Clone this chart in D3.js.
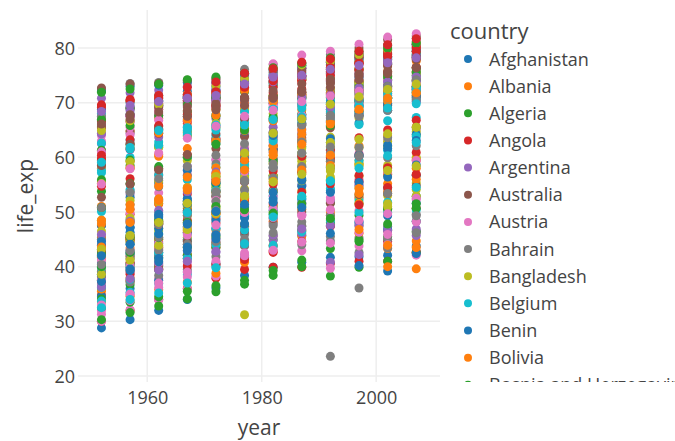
<html lang="en">
<head>
<meta charset="UTF-8">
<title>life_exp by year</title>
<script src="https://cdn.jsdelivr.net/npm/d3@7"></script>
<style>
  body { margin: 0; background: #fff; }
  text { font-family: "Open Sans", "DejaVu Sans", sans-serif; fill: #444; }
</style>
</head>
<body>
<svg id="chart"></svg>
<script>
// gapminder life expectancy, one row per country, columns follow `years`
var years = [1952, 1957, 1962, 1967, 1972, 1977, 1982, 1987, 1992, 1997, 2002, 2007];

var countries = ["Afghanistan","Albania","Algeria","Angola","Argentina","Australia","Austria","Bahrain","Bangladesh","Belgium",
  "Benin","Bolivia","Bosnia and Herzegovina","Botswana","Brazil","Bulgaria","Burkina Faso","Burundi","Cambodia","Cameroon",
  "Canada","Central African Republic","Chad","Chile","China","Colombia","Comoros","Congo, Dem. Rep.","Congo, Rep.","Costa Rica",
  "Cote d'Ivoire","Croatia","Cuba","Czech Republic","Denmark","Djibouti","Dominican Republic","Ecuador","Egypt","El Salvador",
  "Equatorial Guinea","Eritrea","Ethiopia","Finland","France","Gabon","Gambia","Germany","Ghana","Greece",
  "Guatemala","Guinea","Guinea-Bissau","Haiti","Honduras","Hong Kong, China","Hungary","Iceland","India","Indonesia",
  "Iran","Iraq","Ireland","Israel","Italy","Jamaica","Japan","Jordan","Kenya","Korea, Dem. Rep.",
  "Korea, Rep.","Kuwait","Lebanon","Lesotho","Liberia","Libya","Madagascar","Malawi","Malaysia","Mali",
  "Mauritania","Mauritius","Mexico","Mongolia","Montenegro","Morocco","Mozambique","Myanmar","Namibia","Nepal",
  "Netherlands","New Zealand","Nicaragua","Niger","Nigeria","Norway","Oman","Pakistan","Panama","Paraguay",
  "Peru","Philippines","Poland","Portugal","Puerto Rico","Reunion","Romania","Rwanda","Sao Tome and Principe","Saudi Arabia",
  "Senegal","Serbia","Sierra Leone","Singapore","Slovak Republic","Slovenia","Somalia","South Africa","Spain","Sri Lanka",
  "Sudan","Swaziland","Sweden","Switzerland","Syria","Taiwan","Tanzania","Thailand","Togo","Trinidad and Tobago",
  "Tunisia","Turkey","Uganda","United Kingdom","United States","Uruguay","Venezuela","Vietnam","West Bank and Gaza","Yemen, Rep.",
  "Zambia","Zimbabwe"];

var lifeExp = [
  [28.8,30.3,32.0,34.0,36.1,38.4,39.9,40.8,41.7,41.8,42.1,43.8],
  [55.2,59.3,64.8,66.2,67.7,68.9,70.4,72.0,71.6,73.0,75.7,76.4],
  [43.1,45.7,48.3,51.4,54.5,58.0,61.4,65.8,67.7,69.2,71.0,72.3],
  [30.0,32.0,34.0,36.0,37.9,39.5,39.9,39.9,40.6,41.0,41.0,42.7],
  [62.5,64.4,65.1,65.6,67.1,68.5,69.9,70.8,71.9,73.3,74.3,75.3],
  [69.1,70.3,70.9,71.1,71.9,73.5,74.7,76.3,77.6,78.8,80.4,81.2],
  [66.8,67.5,69.5,70.1,70.6,72.2,73.2,74.9,76.0,77.5,79.0,79.8],
  [50.9,53.8,56.9,59.9,63.3,65.6,69.1,70.8,72.6,73.9,74.8,75.6],
  [37.5,39.3,41.2,43.5,45.3,46.9,50.0,52.8,56.0,59.4,62.0,64.1],
  [68.0,69.2,70.3,70.9,71.4,72.8,73.9,75.4,76.5,77.5,78.3,79.4],
  [38.2,40.4,42.6,44.9,47.0,49.2,50.9,52.3,53.9,54.8,54.4,56.7],
  [40.4,41.9,43.4,45.0,46.7,50.0,53.9,57.3,60.0,62.1,63.9,65.6],
  [53.8,58.5,61.9,64.8,67.5,69.9,70.7,71.1,72.2,73.2,74.1,74.9],
  [47.6,49.6,51.5,53.3,56.0,59.3,61.5,63.6,62.7,52.6,46.6,50.7],
  [50.9,53.3,55.7,57.6,59.5,61.5,63.3,65.2,67.1,69.4,71.0,72.4],
  [59.6,66.6,69.5,70.4,70.9,70.8,71.1,71.3,71.2,70.3,72.1,73.0],
  [32.0,34.9,37.8,40.7,43.6,46.1,48.1,49.6,50.3,50.3,50.7,52.3],
  [39.0,40.5,42.0,43.5,44.1,45.9,47.5,48.2,44.7,45.3,47.4,49.6],
  [39.4,41.4,43.4,45.4,40.3,31.2,51.0,53.9,55.8,56.5,56.8,59.7],
  [38.5,40.4,42.6,44.8,47.0,49.4,53.0,55.0,54.3,52.2,49.9,50.4],
  [68.8,70.0,71.3,72.1,72.9,74.2,75.8,76.9,78.0,78.6,79.8,80.7],
  [35.5,37.5,39.5,41.5,43.5,46.8,48.3,50.5,49.4,46.1,43.3,44.7],
  [38.1,39.9,41.7,43.6,45.6,47.4,49.5,51.1,51.7,51.6,50.5,50.7],
  [54.7,56.1,57.9,60.5,63.4,67.1,70.6,72.5,74.1,75.8,77.9,78.6],
  [44.0,50.5,44.5,58.4,63.1,64.0,65.5,67.3,68.7,70.4,72.0,73.0],
  [50.6,55.1,57.9,60.0,61.6,63.8,66.7,67.8,68.4,70.3,71.7,72.9],
  [40.7,42.5,44.5,46.5,48.9,50.9,52.9,54.9,57.9,60.7,63.0,65.2],
  [39.1,40.7,42.1,44.1,46.0,47.8,47.8,47.4,45.5,42.6,45.0,46.5],
  [42.1,45.1,48.4,52.0,54.9,55.6,56.7,57.5,56.4,53.0,53.0,55.3],
  [57.2,60.0,62.8,65.4,67.8,70.8,73.5,74.8,75.7,77.3,78.1,78.8],
  [40.5,42.5,44.9,47.4,49.8,52.4,54.0,54.7,52.0,48.0,46.8,48.3],
  [61.2,64.8,67.1,68.5,69.6,70.6,70.5,71.5,72.5,73.7,74.9,75.7],
  [59.4,62.3,65.2,68.3,70.7,72.6,73.7,74.2,74.4,76.2,77.2,78.3],
  [66.9,69.0,69.9,70.4,70.3,70.7,71.0,71.6,72.4,74.0,75.5,76.5],
  [70.8,71.8,72.3,73.0,73.5,74.7,74.6,74.8,75.3,76.1,77.2,78.3],
  [34.8,37.3,39.7,42.1,44.4,46.5,48.8,50.0,51.6,53.2,53.4,54.8],
  [45.9,49.8,53.5,56.8,59.6,61.8,63.7,66.0,68.5,70.0,70.8,72.2],
  [48.4,51.4,54.6,56.7,58.8,61.3,64.3,67.2,69.6,72.3,74.2,75.0],
  [41.9,44.4,47.0,49.3,51.1,53.3,56.0,59.8,63.7,67.2,69.8,71.3],
  [45.3,48.6,52.3,55.9,58.2,56.7,56.6,63.2,66.8,69.5,70.7,71.9],
  [34.5,36.0,37.5,39.0,40.5,42.0,43.7,45.7,47.5,48.2,49.3,51.6],
  [35.9,38.0,40.2,42.2,44.1,44.5,43.9,46.5,50.0,53.4,55.2,58.0],
  [34.1,36.7,40.1,42.1,43.5,44.5,44.9,46.7,48.1,49.4,50.7,52.9],
  [66.5,67.5,68.8,69.8,70.9,72.5,74.5,74.8,75.7,77.1,78.4,79.3],
  [67.4,68.9,70.5,71.5,72.4,73.8,74.9,76.3,77.5,78.6,79.6,80.7],
  [37.0,39.0,40.5,44.6,48.7,52.8,56.6,60.2,61.4,60.5,56.8,56.7],
  [30.0,32.1,33.9,35.9,38.3,41.8,45.6,49.3,52.6,55.9,58.0,59.4],
  [67.5,69.1,70.3,70.8,71.0,72.5,73.8,74.8,76.1,77.3,78.7,79.4],
  [43.1,44.8,46.5,48.1,49.9,51.8,53.7,55.7,57.5,58.6,58.5,60.0],
  [65.9,67.9,69.5,71.0,72.3,73.7,75.2,76.7,77.0,77.9,78.3,79.5],
  [42.0,44.1,47.0,50.0,53.7,56.0,58.1,60.8,63.4,66.3,69.0,70.3],
  [33.6,34.6,35.8,37.2,38.8,40.8,42.9,45.6,48.6,51.5,53.7,56.0],
  [32.5,33.5,34.5,35.5,36.5,37.5,39.3,41.2,43.3,44.9,45.5,46.4],
  [37.6,40.7,43.6,46.2,48.0,49.9,51.5,53.6,55.1,56.7,58.1,60.9],
  [41.9,44.7,48.0,50.9,53.9,57.4,60.9,64.5,66.4,67.7,68.6,70.2],
  [61.0,64.8,67.7,70.0,72.0,73.6,75.5,76.2,77.6,80.0,81.5,82.2],
  [64.0,66.4,68.0,69.5,69.8,70.0,69.4,69.6,69.2,71.0,72.6,73.3],
  [72.5,73.5,73.7,73.7,74.5,76.1,77.0,77.2,78.8,79.0,80.5,81.8],
  [37.4,40.2,43.6,47.2,50.7,54.2,56.6,58.6,60.2,61.8,62.9,64.7],
  [37.5,39.9,42.5,46.0,49.2,52.7,56.2,60.1,62.7,66.0,68.6,70.7],
  [44.9,47.2,49.3,52.5,55.2,57.7,59.6,63.0,65.7,68.0,69.5,71.0],
  [45.3,48.4,51.5,54.5,57.0,60.4,62.0,65.0,59.5,58.8,57.0,59.5],
  [66.9,68.9,70.3,71.1,71.3,72.0,73.1,74.4,75.5,76.1,77.8,78.9],
  [65.4,67.8,69.4,70.8,71.6,73.1,74.5,75.6,76.9,78.3,79.7,80.7],
  [65.9,67.8,69.2,71.1,72.2,73.5,75.0,76.4,77.4,78.8,80.2,80.5],
  [58.5,62.6,65.6,67.5,69.0,70.1,71.2,71.8,71.8,72.3,72.0,72.6],
  [63.0,65.5,68.7,71.4,73.4,75.4,77.1,78.7,79.4,80.7,82.0,82.6],
  [43.2,45.7,48.1,51.6,56.5,61.1,63.7,65.9,68.0,69.8,71.3,72.5],
  [42.3,44.7,47.9,50.7,53.6,56.2,58.8,59.3,59.3,54.4,51.0,54.1],
  [50.1,54.1,56.7,59.9,64.0,67.2,69.1,70.6,70.0,67.7,66.7,67.3],
  [47.5,52.7,55.3,57.7,62.6,64.8,67.1,69.8,72.2,74.6,77.0,78.6],
  [55.6,58.0,60.5,64.6,67.7,69.3,71.3,74.2,75.2,76.2,76.9,77.6],
  [55.9,59.5,62.1,63.9,65.4,66.1,67.0,67.9,69.3,70.3,71.0,72.0],
  [42.1,45.0,47.7,48.5,49.8,52.2,55.1,57.2,59.7,55.6,44.6,42.6],
  [38.5,39.5,40.5,41.5,42.6,43.8,44.9,46.0,40.8,42.2,43.8,45.7],
  [42.7,45.3,47.8,50.2,52.8,57.4,62.2,66.2,68.8,71.6,72.7,74.0],
  [36.7,38.9,40.8,42.9,44.9,46.9,49.0,49.4,52.2,55.0,57.3,59.4],
  [36.3,37.2,38.4,39.5,41.8,43.8,45.6,47.5,49.4,47.5,45.0,48.3],
  [48.5,52.1,55.7,59.4,63.0,65.3,68.0,69.5,70.7,71.9,73.0,74.2],
  [33.7,35.3,36.9,38.5,40.0,41.7,43.9,46.4,48.4,49.9,51.8,54.5],
  [40.5,42.3,44.2,46.3,48.4,50.9,53.6,56.1,58.3,60.4,62.2,64.2],
  [51.0,58.1,60.2,61.6,62.9,64.9,66.7,68.7,69.7,70.7,72.0,72.8],
  [50.8,55.2,58.3,60.1,62.4,65.0,67.4,69.5,71.5,73.7,74.9,76.2],
  [42.2,45.2,48.3,51.3,53.8,55.5,57.5,60.2,61.3,63.6,65.0,66.8],
  [59.2,61.4,63.7,67.2,70.6,73.1,74.1,74.9,75.4,75.4,74.0,74.5],
  [42.9,45.4,47.9,50.3,52.9,55.7,59.7,62.7,65.4,67.7,69.6,71.2],
  [31.3,33.8,36.2,38.1,40.3,42.5,42.8,42.9,44.3,46.3,44.0,42.1],
  [36.3,41.9,45.1,49.4,53.1,56.1,58.1,58.3,59.3,60.3,59.9,62.1],
  [41.7,45.2,48.4,51.2,53.9,56.4,59.0,60.8,62.0,58.9,51.5,52.9],
  [36.2,37.7,39.4,41.5,44.0,46.7,49.6,52.5,55.7,59.4,61.3,63.8],
  [72.1,73.0,73.2,73.8,73.8,75.2,76.1,76.8,77.4,78.0,78.5,79.8],
  [69.4,70.3,71.2,71.5,71.9,72.2,73.8,74.3,76.3,77.5,79.1,80.2],
  [42.3,45.4,48.6,51.9,55.2,57.5,59.3,62.0,65.8,68.4,70.8,72.9],
  [37.4,38.6,39.5,40.1,40.5,41.3,42.6,44.6,47.4,51.3,54.5,56.9],
  [36.3,37.8,39.4,41.0,42.8,44.5,45.8,46.9,47.5,47.5,46.6,46.9],
  [72.7,73.4,73.5,74.1,74.3,75.4,76.0,75.9,77.3,78.3,79.1,80.2],
  [37.6,40.1,43.2,47.0,52.1,57.4,62.7,67.7,71.2,72.5,74.2,75.6],
  [43.4,45.6,47.7,49.8,51.9,54.0,56.2,58.2,60.8,61.8,63.6,65.5],
  [55.2,59.2,61.8,64.1,66.2,68.7,70.5,71.5,72.5,73.7,74.7,75.5],
  [62.6,63.2,64.4,65.0,65.8,66.4,66.9,67.4,68.2,69.4,70.8,71.8],
  [43.9,46.3,49.1,51.4,55.4,58.4,61.4,64.1,66.5,68.4,69.9,71.4],
  [47.8,51.3,54.8,56.4,58.1,60.1,62.1,64.2,66.5,68.6,70.3,71.7],
  [61.3,65.8,67.6,69.6,70.9,70.7,71.3,71.0,71.0,72.8,74.7,75.6],
  [59.8,61.5,64.4,66.6,69.3,70.4,72.8,74.1,74.9,76.0,77.3,78.1],
  [64.3,68.5,69.6,71.1,72.2,73.4,73.8,74.6,73.9,74.9,77.8,78.7],
  [52.7,55.1,57.7,60.5,64.3,67.1,69.9,71.9,73.6,74.8,75.7,76.4],
  [61.0,64.1,66.8,66.8,69.2,69.5,69.7,69.5,69.4,69.7,71.3,72.5],
  [40.0,41.5,43.0,44.1,44.6,45.0,46.2,44.0,23.6,36.1,43.4,46.2],
  [46.5,48.9,51.9,54.4,56.5,58.5,60.4,61.7,62.7,63.3,64.3,65.5],
  [39.9,42.9,45.9,49.9,53.9,58.7,63.0,66.3,68.8,70.5,71.6,72.8],
  [37.3,39.3,41.5,43.6,45.8,48.9,52.4,55.8,58.2,60.2,61.6,63.1],
  [58.0,61.7,64.5,66.9,68.7,70.3,70.2,71.2,71.7,72.2,73.2,74.0],
  [30.3,31.6,32.8,34.1,35.4,36.8,38.4,40.0,38.3,39.9,41.0,42.6],
  [60.4,63.2,65.8,67.9,69.5,70.8,71.8,73.6,75.8,77.2,78.8,80.0],
  [64.4,67.5,70.3,71.0,70.3,70.5,70.8,71.1,71.4,72.7,73.8,74.7],
  [65.6,67.8,69.2,69.2,69.8,71.0,71.1,72.3,73.6,75.1,76.7,77.9],
  [33.0,35.0,37.0,39.0,41.0,42.0,43.0,44.5,39.7,43.8,45.9,48.2],
  [45.0,48.0,50.0,51.9,53.7,55.5,58.2,60.8,61.9,60.2,53.4,49.3],
  [64.9,66.7,69.7,71.4,73.1,74.4,76.3,76.9,77.6,78.8,79.8,80.9],
  [57.6,61.5,62.2,64.3,65.0,65.9,68.8,69.0,70.4,70.5,70.8,72.4],
  [38.6,39.6,40.9,42.9,45.1,47.8,50.3,51.7,53.6,55.4,56.4,58.6],
  [41.4,43.4,45.0,46.6,49.6,52.5,55.6,57.7,58.5,54.3,43.9,39.6],
  [71.9,72.5,73.4,74.2,74.7,75.4,76.4,77.2,78.2,79.4,80.0,80.9],
  [69.6,70.6,71.3,72.8,73.8,75.4,76.2,77.4,78.0,79.4,80.6,81.7],
  [45.9,48.3,50.3,53.7,57.3,61.2,64.6,67.0,69.2,71.5,73.1,74.1],
  [58.5,62.4,65.2,67.5,69.4,70.6,72.2,73.4,74.3,75.3,77.0,78.4],
  [41.2,43.0,44.2,45.8,47.6,49.9,50.6,51.5,50.4,48.5,49.7,52.5],
  [50.8,53.6,56.1,58.3,60.4,62.5,64.6,66.1,67.3,67.5,68.6,70.6],
  [38.6,41.2,43.9,46.8,49.8,52.9,55.5,56.9,58.1,58.4,57.6,58.4],
  [59.1,61.8,64.9,65.4,65.9,68.3,68.8,69.6,69.9,69.5,69.0,69.8],
  [44.6,47.1,49.6,52.1,55.6,59.8,64.0,66.9,70.0,72.0,73.0,73.9],
  [43.6,48.1,52.1,54.3,57.0,59.5,61.0,63.1,66.1,68.8,70.8,71.8],
  [40.0,42.6,45.3,48.1,51.0,50.4,49.8,51.5,48.8,44.6,47.8,51.5],
  [69.2,70.4,70.8,71.4,72.0,72.8,74.0,75.0,76.4,77.2,78.5,79.4],
  [68.4,69.5,70.2,70.8,71.3,73.4,74.7,75.0,76.1,76.8,77.3,78.2],
  [66.1,67.0,68.3,68.5,68.7,69.5,70.8,71.9,72.8,74.2,75.3,76.4],
  [55.1,57.9,60.8,63.5,65.7,67.5,68.6,70.2,71.2,72.1,72.8,73.7],
  [40.4,42.9,45.4,47.8,50.3,55.8,58.8,62.8,67.7,70.7,73.0,74.2],
  [43.2,45.7,48.1,51.6,56.5,60.8,64.4,67.0,69.7,71.1,72.4,73.4],
  [32.5,34.0,35.2,37.0,39.8,44.2,49.1,52.9,55.6,58.0,60.3,62.7],
  [42.0,44.1,46.0,47.8,50.1,51.4,51.8,50.8,46.1,40.2,39.2,42.4],
  [48.5,50.5,52.4,54.0,55.6,57.7,60.4,62.4,60.4,46.8,40.0,43.5]
];

var xTicks = [1960, 1980, 2000];
var yTicks = [20, 30, 40, 50, 60, 70, 80];

var width = 675;
var height = 441;
var plot = {left: 78, right: 440, top: 10, bottom: 382};

var svg = d3.select("#chart").attr("width", width).attr("height", height);

var x = d3.scaleLinear().domain([1947.9, 2011.15]).range([plot.left, plot.right]);
var y = d3.scaleLinear().domain([18.9, 86.95]).range([plot.bottom, plot.top]);
var color = d3.scaleOrdinal(d3.schemeCategory10);

// grid
var grid = svg.append("g");
grid.selectAll("line.gx")
    .data(xTicks)
    .enter()
    .append("line")
    .attr("x1", function(d) { return x(d); })
    .attr("x2", function(d) { return x(d); })
    .attr("y1", plot.top)
    .attr("y2", plot.bottom)
    .attr("stroke", "#eee")
    .attr("stroke-width", 1.5);
grid.selectAll("line.gy")
    .data(yTicks)
    .enter()
    .append("line")
    .attr("x1", plot.left)
    .attr("x2", plot.right)
    .attr("y1", function(d) { return y(d); })
    .attr("y2", function(d) { return y(d); })
    .attr("stroke", "#eee")
    .attr("stroke-width", 1.5);

// axes, no domain line or tick marks, just labels
var xAxis = svg.append("g")
    .attr("transform", "translate(0," + plot.bottom + ")")
    .call(d3.axisBottom(x).tickValues(xTicks).tickFormat(d3.format("d")).tickSize(0).tickPadding(4));
var yAxis = svg.append("g")
    .attr("transform", "translate(" + plot.left + ",0)")
    .call(d3.axisLeft(y).tickValues(yTicks).tickSize(0).tickPadding(3));
svg.selectAll(".domain").remove();
svg.selectAll(".tick text")
    .style("font-family", "'Open Sans', sans-serif")
    .style("font-size", "18px")
    .attr("fill", "#444");
yAxis.selectAll(".tick text").attr("dy", "0.35em");
xAxis.selectAll(".tick text").attr("dy", "1em");

// points, drawn country by country
var pts = svg.append("g");
lifeExp.forEach(function(row, i) {
    pts.append("g")
        .selectAll("circle")
        .data(row)
        .enter()
        .append("circle")
        .attr("cx", function(d, j) { return x(years[j]); })
        .attr("cy", function(d) { return y(d); })
        .attr("r", 4.5)
        .attr("fill", color(i % 10));
});

// axis titles
svg.append("text")
    .attr("x", (plot.left + plot.right) / 2)
    .attr("y", 435)
    .attr("text-anchor", "middle")
    .style("font-size", "21px")
    .text("year");
svg.append("text")
    .attr("transform", "translate(33," + ((plot.top + plot.bottom) / 2) + ") rotate(-90)")
    .attr("text-anchor", "middle")
    .style("font-size", "21px")
    .text("life_exp");

// legend: the box only has room for the first entries, the rest scroll off
var legendRows = 13;
svg.append("clipPath").attr("id", "legclip")
    .append("rect").attr("x", 440).attr("y", 0).attr("width", 235).attr("height", 382);
var legend = svg.append("g").attr("clip-path", "url(#legclip)");
legend.append("text")
    .attr("x", 450)
    .attr("y", 39)
    .style("font-size", "22px")
    .text("country");
var item = legend.selectAll("g.item")
    .data(countries.slice(0, legendRows))
    .enter()
    .append("g")
    .attr("transform", function(d, i) { return "translate(0," + (59 + i * 27.15) + ")"; });
item.append("circle")
    .attr("cx", 468)
    .attr("cy", 0)
    .attr("r", 4)
    .attr("fill", function(d, i) { return color(i % 10); });
item.append("text")
    .attr("x", 489)
    .attr("y", 6.5)
    .style("font-size", "18px")
    .text(function(d) { return d; });
</script>
</body>
</html>
